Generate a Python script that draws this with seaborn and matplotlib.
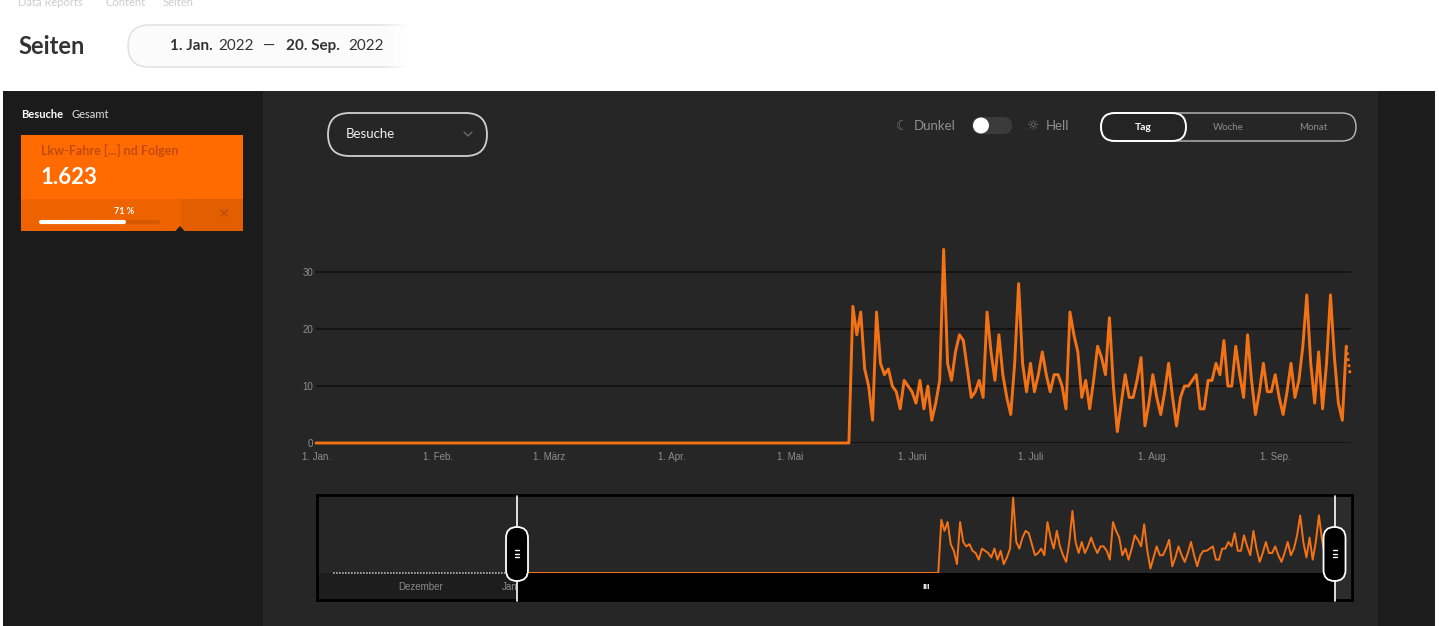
import numpy as np
import pandas as pd
import matplotlib
matplotlib.use("Agg")
import matplotlib.pyplot as plt
import matplotlib.dates as mdates
from matplotlib.patches import FancyBboxPatch, Rectangle, Circle, Polygon
import seaborn as sns

W, H = 1439, 626

# --- Daten ---
period_start = "2022-01-01"
period_end = "2022-09-20"
first_visit_day = "2022-05-17"
# Besuche pro Tag ab 17. Mai (vorher 0)
visits_active = [
    24, 19, 23, 13, 10, 4, 23, 14, 12, 13,
    10, 9, 6, 11, 10, 9, 7, 11, 6, 10,
    4, 7, 11, 34, 14, 11, 16, 19, 18, 13,
    8, 9, 11, 8, 23, 16, 11, 19, 12, 8,
    5, 14, 28, 14, 9, 14, 9, 12, 16, 12,
    9, 12, 12, 10, 6, 23, 19, 16, 8, 11,
    6, 11, 17, 15, 12, 22, 10, 2, 7, 12,
    8, 8, 11, 15, 3, 7, 12, 8, 5, 9,
    14, 8, 3, 8, 10, 10, 11, 12, 6, 6,
    11, 11, 14, 12, 18, 10, 10, 17, 12, 8,
    19, 11, 5, 9, 14, 9, 9, 12, 8, 5,
    9, 14, 8, 11, 17, 26, 14, 7, 16, 6,
    14, 26, 15, 7, 4, 17, 12,
]
prior_start = "2021-11-03"
prior_end = "2021-12-28"
month_ticks = ["2022-01-01", "2022-02-01", "2022-03-01", "2022-04-01", "2022-05-01",
               "2022-06-01", "2022-07-01", "2022-08-01", "2022-09-01"]
month_labels = ["1. Jan.", "1. Feb.", "1. März", "1. Apr.", "1. Mai",
                "1. Juni", "1. Juli", "1. Aug.", "1. Sep."]
y_ticks = [0, 10, 20, 30]
nav_months = ["2021-12-01", "2022-01-01"]
nav_month_labels = ["Dezember", "Januar"]
page_title = "Lkw-Fahre [...] nd Folgen"
total_visits = "1.623"
share_pct = 71

dates = pd.date_range(period_start, period_end, freq="D")
n_zero = len(dates) - len(visits_active)
df = pd.DataFrame({"datum": dates, "besuche": [0] * n_zero + visits_active})
prior_dates = pd.date_range(prior_start, prior_end, freq="D")
df_prior = pd.DataFrame({"datum": prior_dates, "besuche": [0] * len(prior_dates)})

ORANGE = "#f47216"
t0 = pd.Timestamp(period_start)

sns.set_theme(style="dark")
plt.rcParams["font.family"] = ["Lato", "DejaVu Sans"]

fig = plt.figure(figsize=(W / 100, H / 100), dpi=100)
fig.patch.set_facecolor("white")


def frac(x0, y0, x1, y1):
    return [x0 / W, 1 - y1 / H, (x1 - x0) / W, (y1 - y0) / H]


def pill(ax, x0, y0, x1, y1, r=None, **kw):
    r = min(x1 - x0, y1 - y0) / 2 if r is None else r
    p = FancyBboxPatch((x0, y0), x1 - x0, y1 - y0,
                       boxstyle=f"round,pad=0,rounding_size={r}", **kw)
    ax.add_patch(p)
    return p


# Hintergrund (Pixelkoordinaten)
bg = fig.add_axes([0, 0, 1, 1], zorder=0)
bg.set_xlim(0, W)
bg.set_ylim(H, 0)
bg.axis("off")

# Kopfbereich
for x, s in [(18, "Data Reports"), (105, "Content"), (163, "Seiten")]:
    bg.text(x, 3, s, fontsize=8, color="#cdcdcd", va="center", ha="left")
bg.text(18, 46, "Seiten", fontsize=17, fontweight="bold", color="#333333", va="center")
pill(bg, 128, 25, 440, 67, r=21, fc="#fbfbfb", ec="#dedede", lw=1)
grad = np.ones((2, 60, 4))
grad[..., 3] = np.linspace(0, 1, 60)
bg.imshow(grad, extent=[380, 408, 70, 22], aspect="auto", zorder=3)
bg.add_patch(Rectangle((407, 20), 40, 52, fc="white", ec="none", zorder=3))
for x, s, fw in [(170, "1. Jan.", "bold"), (218, "2022", "normal"), (263, "—", "normal"),
                 (286, "20. Sep.", "bold"), (348, "2022", "normal")]:
    bg.text(x, 46, s, fontsize=11, fontweight=fw, color="#333333", va="center", ha="left", zorder=4)
bg.set_xlim(0, W)
bg.set_ylim(H, 0)

# dunkles Panel
bg.add_patch(Rectangle((3, 91), 1432, H - 91, fc="#1d1d1d", ec="none"))
bg.add_patch(Rectangle((3, 91), 260, H - 91, fc="#1b1b1b", ec="none"))
bg.add_patch(Rectangle((263, 91), 1115, H - 91, fc="#262626", ec="none"))

# Seitenleiste
bg.text(21, 114, "Besuche", fontsize=8, fontweight="bold", color="white", va="center")
bg.text(71, 114, "Gesamt", fontsize=8, color="#dddddd", va="center")
bg.add_patch(Rectangle((21, 135), 222, 96, fc="#ff6b00", ec="none"))
bg.add_patch(Rectangle((21, 199), 160, 32, fc="#ee6300", ec="none"))
bg.add_patch(Rectangle((181, 199), 62, 32, fc="#e35e00", ec="none"))
bg.text(41, 150, page_title, fontsize=9, fontweight="bold", color="#c44a10", va="center")
bg.text(41, 177, total_visits, fontsize=16, fontweight="bold", color="white", va="center")
bg.text(124, 211, f"{share_pct} %", fontsize=6.5, fontweight="bold", color="white",
        va="center", ha="center")
bar_x0, bar_x1 = 41, 158
bg.plot([bar_x0, bar_x1], [222, 222], color="#d65900", lw=3, solid_capstyle="round")
bg.plot([bar_x0, bar_x0 + share_pct / 100 * (bar_x1 - bar_x0)], [222, 222],
        color="white", lw=3, solid_capstyle="round")
bg.text(224, 214, "×", fontsize=13, color="#b34a12", va="center", ha="center")
bg.add_patch(Polygon([[175, 231.5], [180, 226], [185, 231.5]], fc="#1b1b1b", ec="none"))

# Bedienelemente
pill(bg, 328, 113, 487, 156, fc="none", ec="#d0d0d0", lw=1.3)
bg.text(346, 134, "Besuche", fontsize=9.5, color="#f0f0f0", va="center")
bg.plot([464, 468, 472], [132, 136, 132], color="#6a6a6a", lw=1)
bg.text(902, 126, "☾", fontsize=10, color="#777777", va="center", ha="center",
        family=["DejaVu Sans"])
bg.text(914, 126, "Dunkel", fontsize=9.5, color="#8f8f8f", va="center")
pill(bg, 972, 117, 1012, 134, fc="#3b3b3b", ec="none")
bg.add_patch(Circle((981, 125.5), 8, fc="white", ec="none"))
bg.text(1033, 126, "☼", fontsize=10, color="#777777", va="center", ha="center",
        family=["DejaVu Sans"])
bg.text(1046, 126, "Hell", fontsize=9.5, color="#8f8f8f", va="center")
pill(bg, 1101, 113, 1356, 141, fc="none", ec="#bdbdbd", lw=1)
pill(bg, 1101, 113, 1186, 141, fc="#242424", ec="white", lw=1.4)
bg.text(1143, 127, "Tag", fontsize=7.5, fontweight="bold", color="white", va="center", ha="center")
bg.text(1228, 127, "Woche", fontsize=7, color="#8c8c8c", va="center", ha="center")
bg.text(1313, 127, "Monat", fontsize=7, color="#8c8c8c", va="center", ha="center")

# Hauptdiagramm
ax = fig.add_axes(frac(316, 238, 1351, 443), zorder=1)
ax.set_facecolor("#262626")
sns.lineplot(data=df.iloc[:-1], x="datum", y="besuche", ax=ax, color=ORANGE, lw=2.1,
             clip_on=False, solid_joinstyle="round")
sns.lineplot(data=df.iloc[-2:], x="datum", y="besuche", ax=ax, color=ORANGE, lw=2,
             linestyle=(0, (1, 1.2)), clip_on=False)
ax.set_xlim(t0, t0 + pd.Timedelta(days=262.2))
ax.set_ylim(0, 36)
ax.set_xticks(pd.to_datetime(month_ticks))
ax.set_xticklabels(month_labels)
ax.set_yticks(y_ticks)
ax.tick_params(axis="both", length=0, labelsize=7, labelcolor="#8e8e8e",
               labelfontfamily="Liberation Sans")
ax.tick_params(axis="x", pad=6.5)
ax.tick_params(axis="y", pad=2)
ax.grid(axis="y", color="#0f0f0f", lw=1.1)
ax.grid(axis="x", visible=False)
ax.set_axisbelow(True)
for s in ax.spines.values():
    s.set_visible(False)
ax.set_xlabel("")
ax.set_ylabel("")

# Navigator
nav = fig.add_axes(frac(317, 495, 1352, 600), zorder=1)
nav.set_facecolor("#262626")
nav_left = t0 + pd.Timedelta(days=-64.1)
nav_right = t0 + pd.Timedelta(days=267.6)
t_end = pd.Timestamp(period_end)
nav.fill_between([nav_left, t0], -12.2, 0, color="#1d1d1d", lw=0, zorder=1)
nav.fill_between([t0, t_end], -12.2, 0, color="black", lw=0, zorder=4.5)
nav.axvspan(t_end, nav_right, color="#2c2c2c", lw=0, zorder=1)
sns.lineplot(data=df_prior, x="datum", y="besuche", ax=nav, color="#b5b5b5", lw=1.2,
             linestyle=(0, (1, 0.8)), zorder=4)
sns.lineplot(data=df, x="datum", y="besuche", ax=nav, color=ORANGE, lw=1.4, zorder=4)
for d, s in zip(nav_months, nav_month_labels):
    nav.text(pd.Timestamp(d), -6.3, s, fontsize=7, color="#8a8a8a", ha="center", va="center",
             family="Liberation Sans", zorder=2)
mid = t0 + (t_end - t0) / 2
nav.text(mid, -6.3, "III", fontsize=5, fontweight="bold", color="white", ha="center",
         va="center", zorder=5, family="DejaVu Sans")
nav.set_xlim(nav_left, nav_right)
nav.set_ylim(-12.2, 35.2)
nav.set_xticks([])
nav.set_yticks([])
nav.set_xlabel("")
nav.set_ylabel("")
for s in nav.spines.values():
    s.set_visible(True)
    s.set_color("black")
    s.set_linewidth(2)

# Schieberegler (Griffe)
top = fig.add_axes([0, 0, 1, 1], zorder=5)
top.set_xlim(0, W)
top.set_ylim(H, 0)
top.axis("off")
top.patch.set_alpha(0)
for d in [t0, t_end]:
    hx = nav.transData.transform([[mdates.date2num(d), 0]])[0][0]
    top.plot([hx, hx], [496, 601], color="white", lw=1.2, zorder=1)
    pill(top, hx - 11, 527, hx + 11, 581, r=11, fc="black", ec="white", lw=1.3, zorder=3)
    for yy in (550, 553.5, 557):
        top.plot([hx - 2, hx + 2], [yy, yy], color="white", lw=1, zorder=4)

fig.savefig("out.png", dpi=100, facecolor="white")
